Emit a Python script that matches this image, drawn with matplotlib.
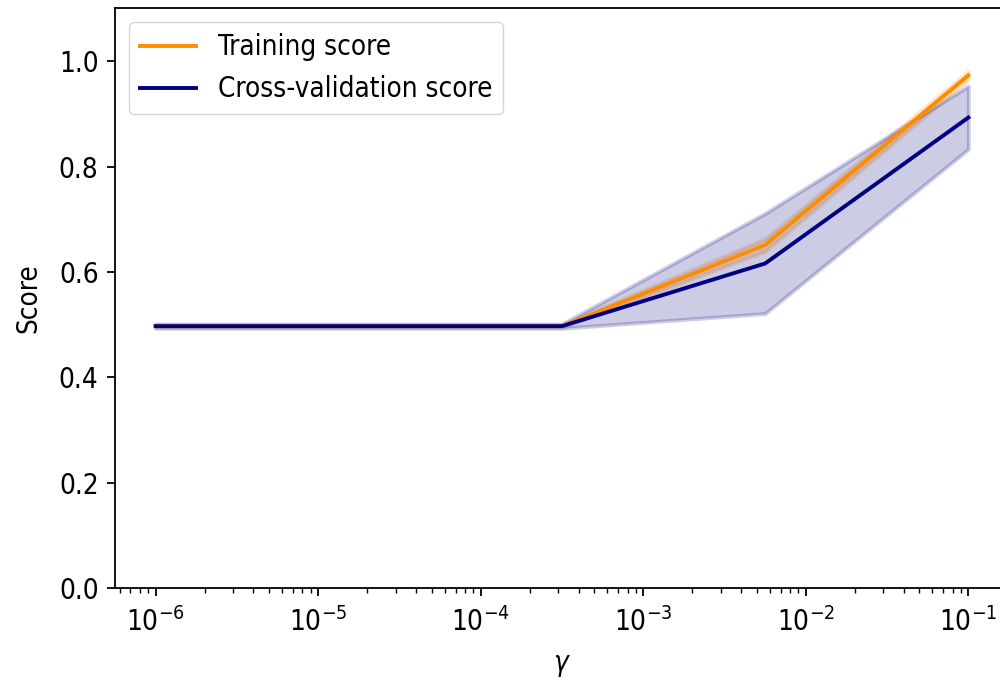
import numpy as np
import matplotlib
matplotlib.use("Agg")
import matplotlib.pyplot as plt

# gamma values and the mean / std of the scores at each one
param_range = [1e-6, 1.778e-5, 3.162e-4, 5.623e-3, 1e-1]
train_mean = [0.497, 0.497, 0.497, 0.651, 0.973]
train_std = [0.003, 0.003, 0.003, 0.012, 0.008]
test_mean = [0.497, 0.497, 0.497, 0.616, 0.893]
test_std = [0.004, 0.004, 0.004, 0.095, 0.060]

train_mean = np.array(train_mean)
train_std = np.array(train_std)
test_mean = np.array(test_mean)
test_std = np.array(test_std)

plt.rcParams['font.size'] = 20
plt.rcParams['font.stretch'] = 'condensed'
plt.rcParams['axes.linewidth'] = 1.3
plt.rcParams['xtick.major.size'] = 5.8
plt.rcParams['ytick.major.size'] = 5.8
plt.rcParams['xtick.minor.size'] = 3.3
plt.rcParams['xtick.major.width'] = 1.3
plt.rcParams['ytick.major.width'] = 1.3
plt.rcParams['xtick.minor.width'] = 1.0
plt.rcParams['xtick.major.pad'] = 8
plt.rcParams['ytick.major.pad'] = 6

fig = plt.figure(figsize=(10, 6.84), dpi=100)
ax = fig.add_axes([0.115, 0.1404, 0.894, 0.8472])

lw = 2.8
ax.semilogx(param_range, train_mean, label="Training score", color="darkorange", lw=lw)
ax.fill_between(param_range, train_mean - train_std, train_mean + train_std,
                alpha=0.2, color="darkorange", lw=lw)
ax.semilogx(param_range, test_mean, label="Cross-validation score", color="navy", lw=lw)
ax.fill_between(param_range, test_mean - test_std, test_mean + test_std,
                alpha=0.2, color="navy", lw=lw)

ax.set_ylim(0.0, 1.1)
ax.set_xlim(10 ** -6.25, 10 ** -0.75)
ax.set_xlabel(r"$\gamma$", labelpad=10)
ax.set_ylabel("Score", labelpad=12)
ax.legend(loc="best")

fig.savefig("out.png", dpi=100)
